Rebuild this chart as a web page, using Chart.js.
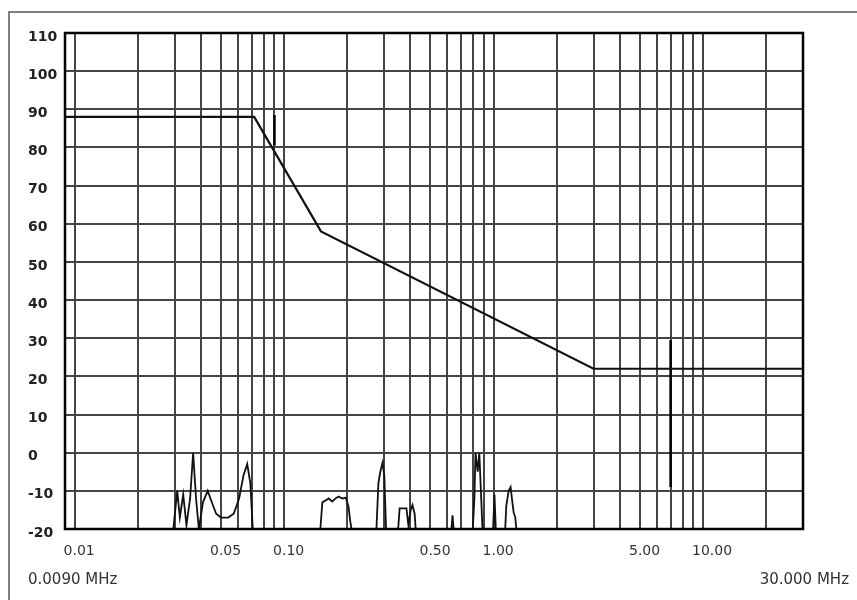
<!DOCTYPE html>
<html>
<head>
<meta charset="utf-8">
<script src="https://cdn.jsdelivr.net/npm/chart.js@4.4.1/dist/chart.umd.min.js"></script>
<style>
  html, body { margin: 0; padding: 0; background: #fff; }
  #wrap { width: 857px; height: 600px; }
</style>
</head>
<body>
<div id="wrap"><canvas id="chart" width="857" height="600"></canvas></div>
<script>
// limit line (MHz / dBuV)
const limitFreq = [0.009, 0.072, 0.15, 3.0, 30];
const limitLevel = [88, 88, 58, 22, 22];

// measured trace, values under -20 fall below the plot
const traceFreq = [
  0.0290, 0.0296, 0.0309, 0.0318, 0.0330, 0.0342, 0.0356, 0.0368, 0.0380, 0.0392,
  0.0410, 0.0432, 0.0452, 0.0474, 0.0500, 0.0541, 0.0575, 0.0610, 0.0640, 0.0667,
  0.0690, 0.0714,
  0.146, 0.149, 0.1523, 0.158, 0.163, 0.170, 0.176, 0.182, 0.190, 0.197, 0.203, 0.207, 0.214,
  0.272, 0.276, 0.282, 0.288, 0.295, 0.301, 0.308,
  0.344, 0.3516, 0.356, 0.384, 0.392, 0.402, 0.410, 0.420, 0.4285,
  0.623, 0.637, 0.651,
  0.79, 0.81, 0.82, 0.84, 0.855, 0.867, 0.89,
  0.99, 1.01, 1.03,
  1.13, 1.15, 1.18, 1.206, 1.23, 1.247, 1.27, 1.30
];
const traceLevel = [
  -23, -20, -10, -17, -11, -19, -12, 0, -12, -20,
  -13, -10, -13, -16, -17, -17, -16, -12, -6, -3,
  -8, -23,
  -23, -20, -13, -12.5, -12, -12.8, -12, -11.5, -12, -11.8, -14, -18, -23,
  -23, -20, -8, -5, -2.7, -6, -23,
  -23, -19, -14.6, -14.6, -19, -15, -13.7, -16, -23,
  -23, -16.4, -23,
  -23, -12, 0, -5, 0, -8, -23,
  -23, -11, -23,
  -23, -14, -10, -9, -13, -15.6, -17, -23
];

// marker lines
const marker1 = [[0.09, 88.5], [0.09, 80.5]];
const marker2 = [[7, 29.5], [7, -9]];

// grid and tick labels
const gridFreq = [
  0.01, 0.02, 0.03, 0.04, 0.05, 0.06, 0.07, 0.08, 0.09,
  0.1, 0.2, 0.3, 0.4, 0.5, 0.6, 0.7, 0.8, 0.9,
  1, 2, 3, 4, 5, 6, 7, 8, 9,
  10, 20
];
const labelFreq = [0.01, 0.05, 0.1, 0.5, 1, 5, 10];
const labelText = ['0.01', '0.05', '0.10', '0.50', '1.00', '5.00', '10.00'];
const rangeLabels = ['0.0090 MHz', '30.000 MHz'];
const yMin = -20, yMax = 110, yStep = 10;

const pts = (xs, ys) => xs.map((x, i) => ({x: x, y: ys[i]}));
const pairs = p => p.map(v => ({x: v[0], y: v[1]}));

const framePlugin = {
  id: 'frame',
  beforeDraw(chart) {
    const ctx = chart.ctx;
    ctx.save();
    ctx.fillStyle = '#fff';
    ctx.fillRect(0, 0, chart.width, chart.height);
    ctx.strokeStyle = '#555';
    ctx.lineWidth = 1.5;
    ctx.beginPath();
    ctx.moveTo(9, chart.height);
    ctx.lineTo(9, 12);
    ctx.lineTo(chart.width, 12);
    ctx.stroke();
    ctx.restore();
  },
  afterDatasetsDraw(chart) {
    const {ctx, chartArea: a} = chart;
    ctx.save();
    ctx.strokeStyle = '#000';
    ctx.lineWidth = 2.5;
    ctx.strokeRect(a.left, a.top, a.right - a.left, a.bottom - a.top);
    ctx.font = '15px "DejaVu Sans"';
    ctx.fillStyle = '#333';
    ctx.textBaseline = 'middle';
    ctx.textAlign = 'left';
    ctx.fillText(rangeLabels[0], 28, 580);
    ctx.textAlign = 'right';
    ctx.fillText(rangeLabels[1], 849, 580);
    ctx.restore();
  }
};

const line = (data, width, color) => ({
  data: data,
  showLine: true,
  borderColor: color,
  borderWidth: width,
  pointRadius: 0,
  tension: 0,
  clip: 0
});

new Chart(document.getElementById('chart'), {
  type: 'scatter',
  data: {
    datasets: [
      line(pts(limitFreq, limitLevel), 2.2, '#111'),
      line(pts(traceFreq, traceLevel), 1.8, '#111'),
      line(pairs(marker1), 2.5, '#000'),
      line(pairs(marker2), 2.5, '#000')
    ]
  },
  options: {
    responsive: false,
    animation: false,
    layout: { padding: { left: 28, top: 33, right: 54, bottom: 0 } },
    plugins: { legend: { display: false }, tooltip: { enabled: false } },
    scales: {
      x: {
        type: 'logarithmic',
        min: 0.009,
        max: 30,
        afterBuildTicks: s => { s.ticks = gridFreq.map(v => ({value: v})); },
        afterFit: s => { s.height = 71; },
        border: { display: false },
        grid: { color: '#444', lineWidth: 2, drawTicks: false },
        ticks: {
          autoSkip: false,
          maxRotation: 0,
          align: 'start',
          labelOffset: -11,
          padding: 14,
          color: '#333',
          font: { family: 'DejaVu Sans', size: 14 },
          callback: v => {
            const i = labelFreq.findIndex(f => Math.abs(f - v) / f < 1e-6);
            return i >= 0 ? labelText[i] : '';
          }
        }
      },
      y: {
        type: 'linear',
        min: yMin,
        max: yMax,
        afterFit: s => { s.width = 37; },
        border: { display: false },
        grid: { color: '#444', lineWidth: 2, drawTicks: false },
        ticks: {
          stepSize: yStep,
          crossAlign: 'far',
          labelOffset: 4,
          color: '#222',
          font: { family: 'DejaVu Sans', size: 14, weight: 'bold' }
        }
      }
    }
  },
  plugins: [framePlugin]
});
</script>
</body>
</html>
